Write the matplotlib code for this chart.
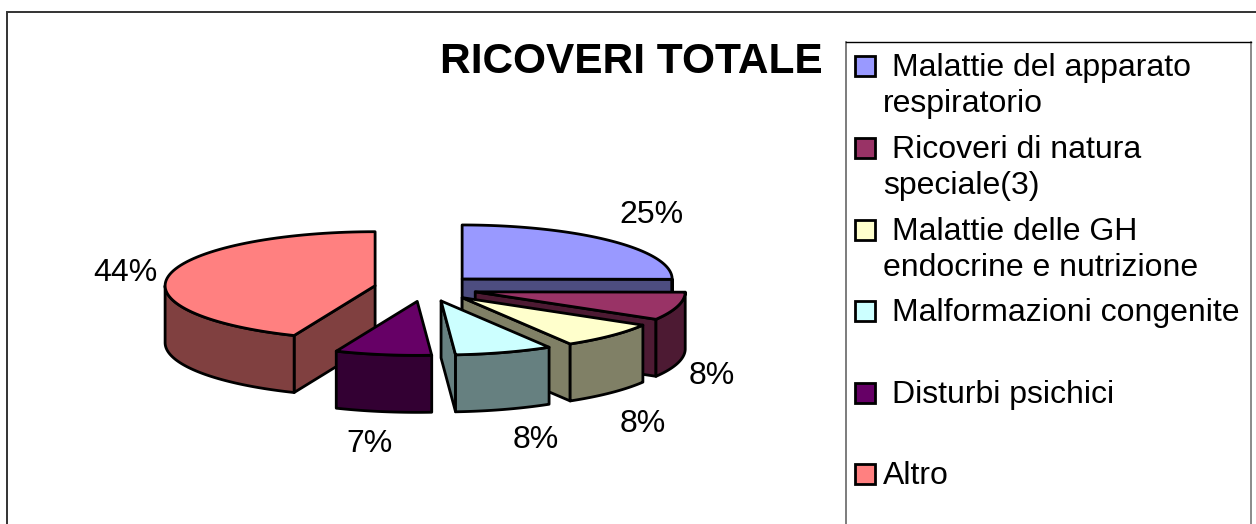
import numpy as np
import matplotlib
matplotlib.use("Agg")
import matplotlib.pyplot as plt
from matplotlib.patches import Polygon, Rectangle

# ---- data ----
categories = ["Malattie del apparato\nrespiratorio", "Ricoveri di natura\nspeciale(3)",
              "Malattie delle GH\nendocrine e nutrizione", "Malformazioni congenite",
              "Disturbi psichici", "Altro"]
values = [25.1, 8.4, 7.9, 7.5, 7.4, 43.7]
colors = ["#9999FF", "#993366", "#FFFFCC", "#CCFFFF", "#660066", "#FF8080"]
title = "RICOVERI TOTALE"

# ---- layout (pixels) ----
W, H = 1256, 524
CX, CY = 425.6, 288.3
RX, RY = 210.0, 54.0
EXPLODE = 51.5
DEPTH = 57.0
label_offsets = [(40, -26), (34, 70), (32, 88), (32, 88), (-14, 89), (-44, -2)]
legend_rows = [76, 158, 240, 321, 403, 484]
ROW2 = 36

plt.rcParams["font.family"] = ["Liberation Sans", "DejaVu Sans"]
fig = plt.figure(figsize=(W / 100, H / 100), dpi=100, facecolor="white")
ax = fig.add_axes([0, 0, 1, 1])
ax.set_xlim(0, W)
ax.set_ylim(H, 0)
ax.axis("off")

LW = 2.0
EDGE = "black"


def pt(apex, deg, r=1.0):
    t = np.radians(deg)
    return np.array([apex[0] + RX * r * np.sin(t), apex[1] - RY * r * np.cos(t)])


def arc(apex, a, b, n=80):
    t = np.radians(np.linspace(a, b, n))
    return np.column_stack([apex[0] + RX * np.sin(t), apex[1] - RY * np.cos(t)])


def shade(c):
    rgb = np.array(matplotlib.colors.to_rgb(c))
    return tuple(rgb * 0.5)


fractions = np.array(values, dtype=float) / sum(values)
ends = np.cumsum(fractions) * 360
starts = ends - fractions * 360
mids = (starts + ends) / 2
apexes = [np.array([CX + EXPLODE * np.sin(np.radians(m)),
                    CY - EXPLODE * RY / RX * np.cos(np.radians(m))]) for m in mids]

down = np.array([0, DEPTH])
order = np.argsort([a[1] for a in apexes])
z = 2
for i in order:
    a, b, apex, col = starts[i], ends[i], apexes[i], colors[i]
    side = shade(col)
    faces = []
    if np.sin(np.radians(a)) < -1e-6:
        p = pt(apex, a)
        faces.append([apex, p, p + down, apex + down])
    if np.sin(np.radians(b)) > 1e-6:
        p = pt(apex, b)
        faces.append([apex, p, p + down, apex + down])
    lo, hi = max(a, 90), min(b, 270)
    if hi > lo:
        c = arc(apex, lo, hi)
        faces.append(np.vstack([c, (c + down)[::-1]]))
    for f in faces:
        ax.add_patch(Polygon(np.array(f), closed=True, facecolor=side, edgecolor=EDGE,
                             linewidth=LW, joinstyle="round", zorder=z))
        z += 1
    top = np.vstack([[apex], arc(apex, a, b)])
    ax.add_patch(Polygon(top, closed=True, facecolor=col, edgecolor=EDGE,
                         linewidth=LW, joinstyle="round", zorder=z))
    z += 1

# percentage labels
for i, v in enumerate(values):
    p = pt(apexes[i], mids[i])
    ax.text(p[0] + label_offsets[i][0], p[1] + label_offsets[i][1], f"{v:.0f}%",
            fontsize=23, ha="center", va="center", color="black", zorder=100)

# title
ax.text(631.5, 73, title, fontsize=30.5, fontweight="bold", ha="center", va="baseline")

# outer frame, legend box
ax.plot([6.5, 6.5, W], [H, 11.5, 11.5], color="#333333", lw=1.4, solid_joinstyle="miter", zorder=1)
ax.plot([845.5, 845.5], [H, 41.5], color="#666666", lw=1.2, zorder=1)
ax.plot([1250.5, 1250.5], [H, 41.5], color="#777777", lw=1.2, zorder=1)
ax.plot([845.5, 1250.5], [41.5, 41.5], color="black", lw=1.0, zorder=1)

# legend
for y, name, col in zip(legend_rows, categories, colors):
    ax.add_patch(Rectangle((855, y - 20), 20, 20, facecolor=col, edgecolor="black", linewidth=2.0, zorder=5))
    lines = name.split("\n")
    x0 = 883 if name == "Altro" else 892
    ax.text(x0, y, lines[0], fontsize=23, ha="left", va="baseline")
    if len(lines) > 1:
        ax.text(883, y + ROW2, lines[1], fontsize=23, ha="left", va="baseline")

fig.savefig("out.png", dpi=100, facecolor="white")
